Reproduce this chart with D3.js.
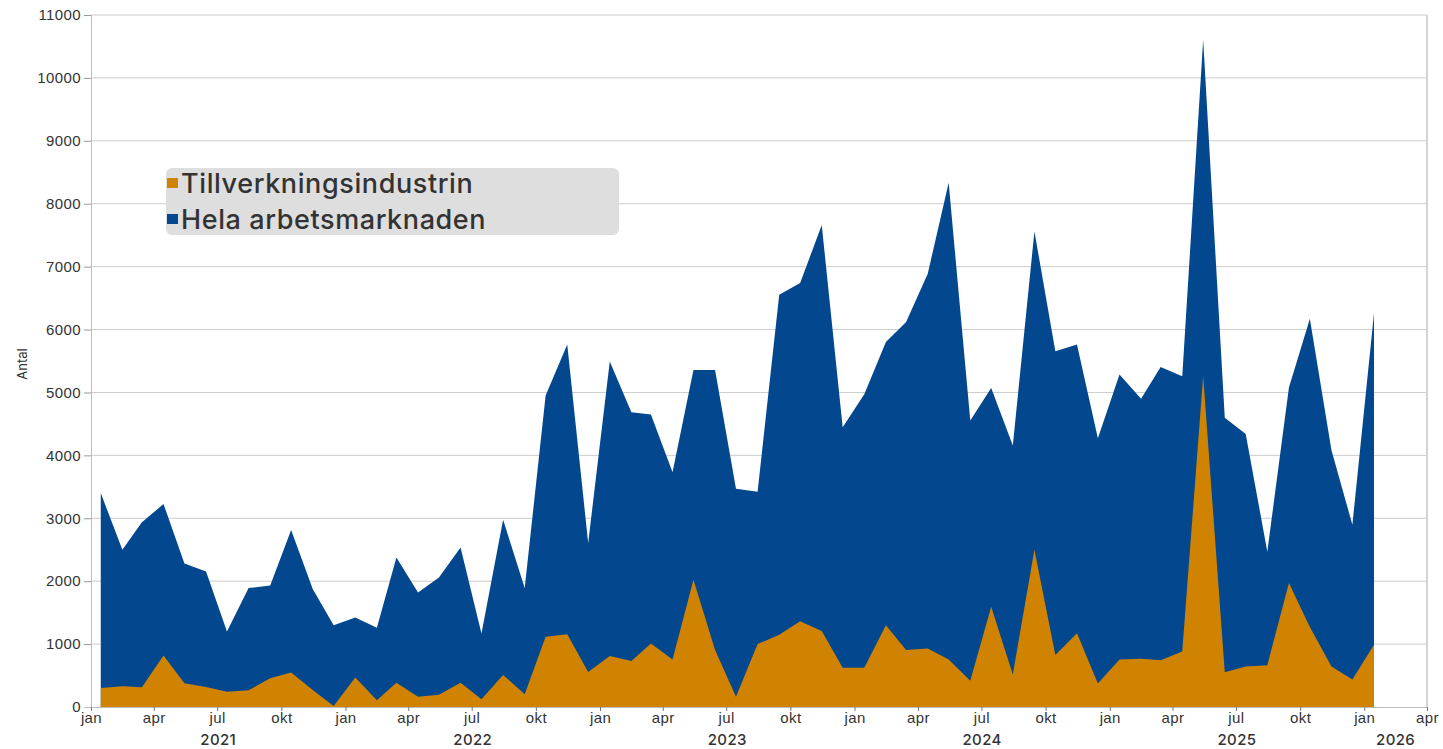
<!DOCTYPE html>
<html>
<head>
<meta charset="utf-8">
<script src="https://cdn.jsdelivr.net/npm/d3@7"></script>
<style>
  body { margin: 0; background: #fff; }
  svg { display: block; font-family: Inter, "Open Sans", sans-serif; }
</style>
</head>
<body>
<svg id="chart" width="1443" height="749"></svg>
<script>
// monthly values, jan 2021 .. jan 2026
var startYear = 2021;
var helaArbetsmarknaden = [
  3400, 2500, 2935, 3227, 2282, 2155, 1200, 1890, 1932, 2813, 1874, 1300,
  1422, 1258, 2378, 1820, 2059, 2537, 1167, 2978, 1890, 4952, 5764, 2606,
  5494, 4687, 4650, 3732, 5357, 5357, 3470, 3423, 6554, 6738, 7661, 4446,
  4970, 5804, 6119, 6887, 8333, 4554, 5071, 4155, 7560, 5655, 5762, 4274,
  5286, 4899, 5405, 5256, 10606, 4597, 4338, 2469, 5078, 6171, 4080, 2897,
  6260
];
var tillverkningsindustrin = [
  303, 329, 313, 817, 377, 318, 244, 265, 456, 547, 270, 16,
  467, 106, 387, 164, 196, 387, 122, 510, 202, 1115, 1157, 557,
  812, 732, 1010, 756, 2024, 905, 161, 1000, 1149, 1363, 1208, 625,
  625, 1298, 905, 929, 756, 417, 1595, 518, 2500, 827, 1173, 375,
  756, 768, 742, 884, 5262, 554, 643, 665, 1973, 1271, 643, 436,
  990
];
var monthNames = ['jan', 'feb', 'mar', 'apr', 'maj', 'jun', 'jul', 'aug', 'sep', 'okt', 'nov', 'dec'];
var yTicks = [0, 1000, 2000, 3000, 4000, 5000, 6000, 7000, 8000, 9000, 10000, 11000];
var seriesNames = ['Tillverkningsindustrin', 'Hela arbetsmarknaden'];
var colors = ['#d08300', '#03488e'];

var svg = d3.select('#chart');
var plotLeft = 91, plotRight = 1427, plotTop = 15, plotBottom = 707;

var x = d3.scaleTime()
  .domain([new Date(2021, 0, 1), new Date(2026, 3, 1)])
  .range([plotLeft, plotRight]);
var y = d3.scaleLinear().domain([0, 11000]).range([plotBottom, plotTop]);

function dateOf(i) { return new Date(startYear, i, 15); }

// gridlines
svg.append('g').selectAll('line').data(yTicks.slice(1)).enter().append('line')
  .attr('x1', plotLeft).attr('x2', plotRight)
  .attr('y1', function(d) { return y(d); }).attr('y2', function(d) { return y(d); })
  .attr('stroke', '#cccccc').attr('stroke-width', 1);
svg.append('line').attr('x1', plotRight).attr('x2', plotRight).attr('y1', plotTop).attr('y2', plotBottom)
  .attr('stroke', '#d4d4d4').attr('stroke-width', 2);

// areas: total behind, manufacturing in front
var area = d3.area()
  .x(function(d, i) { return x(dateOf(i)); })
  .y0(y(0))
  .y1(function(d) { return y(d); });
svg.append('path').datum(helaArbetsmarknaden).attr('d', area).attr('fill', colors[1]);
svg.append('path').datum(tillverkningsindustrin).attr('d', area).attr('fill', colors[0]);

// y axis
var yAxis = svg.append('g').attr('transform', 'translate(' + plotLeft + ',0)')
  .call(d3.axisLeft(y).tickValues(yTicks).tickSize(7).tickPadding(3).tickFormat(d3.format('d')));
yAxis.select('.domain').attr('stroke', '#bdbdbd');
yAxis.selectAll('.tick line').attr('stroke', '#999');
yAxis.selectAll('.tick text').attr('fill', '#333').style('font-size', '15px').style('font-weight', 500)
  .style('letter-spacing', '0.4px').attr('x', -10);

// x axis
var quarters = d3.timeMonth.every(3).range(new Date(2021, 0, 1), new Date(2026, 3, 2));
var xAxis = svg.append('g').attr('transform', 'translate(0,' + plotBottom + ')')
  .call(d3.axisBottom(x).tickValues(quarters).tickSize(4).tickPadding(1)
    .tickFormat(function(d) { return monthNames[d.getMonth()]; }));
xAxis.select('.domain').attr('stroke', '#bdbdbd').attr('d', 'M' + (plotLeft - 7) + ',0.5H' + plotRight);
xAxis.selectAll('.tick line').attr('stroke', '#777');
xAxis.selectAll('.tick text').attr('fill', '#333').style('font-size', '15px').style('font-weight', 500)
  .style('letter-spacing', '0.4px');

// year labels centred under the visible part of each year
var years = d3.range(2021, 2027);
svg.append('g').selectAll('text').data(years).enter().append('text')
  .attr('x', function(yr) {
    var a = d3.max([new Date(yr, 0, 1), x.domain()[0]]);
    var b = d3.min([new Date(yr + 1, 0, 1), x.domain()[1]]);
    return (x(a) + x(b)) / 2;
  })
  .attr('y', 745)
  .attr('text-anchor', 'middle')
  .attr('fill', '#333').style('font-size', '15px').style('font-weight', 500)
  .style('letter-spacing', '0.4px')
  .text(function(yr) { return yr; });

// y title
svg.append('text')
  .attr('transform', 'translate(27,364) rotate(-90)')
  .attr('text-anchor', 'middle')
  .attr('fill', '#333').style('font-size', '13px')
  .text('Antal');

// legend
var legend = svg.append('g').attr('transform', 'translate(166,168)');
legend.append('rect').attr('width', 453).attr('height', 67).attr('rx', 6)
  .attr('fill', '#dedede');
var items = legend.selectAll('g.item').data(seriesNames).enter().append('g')
  .attr('transform', function(d, i) { return 'translate(0,' + (i * 36) + ')'; });
items.append('rect').attr('x', 1).attr('y', 10).attr('width', 11).attr('height', 10)
  .attr('fill', function(d, i) { return colors[i]; });
items.append('text').attr('x', 15).attr('y', 25)
  .attr('fill', '#333').style('font-size', '27px').style('font-weight', 500)
  .style('letter-spacing', '0.6px')
  .text(function(d) { return d; });
</script>
</body>
</html>
